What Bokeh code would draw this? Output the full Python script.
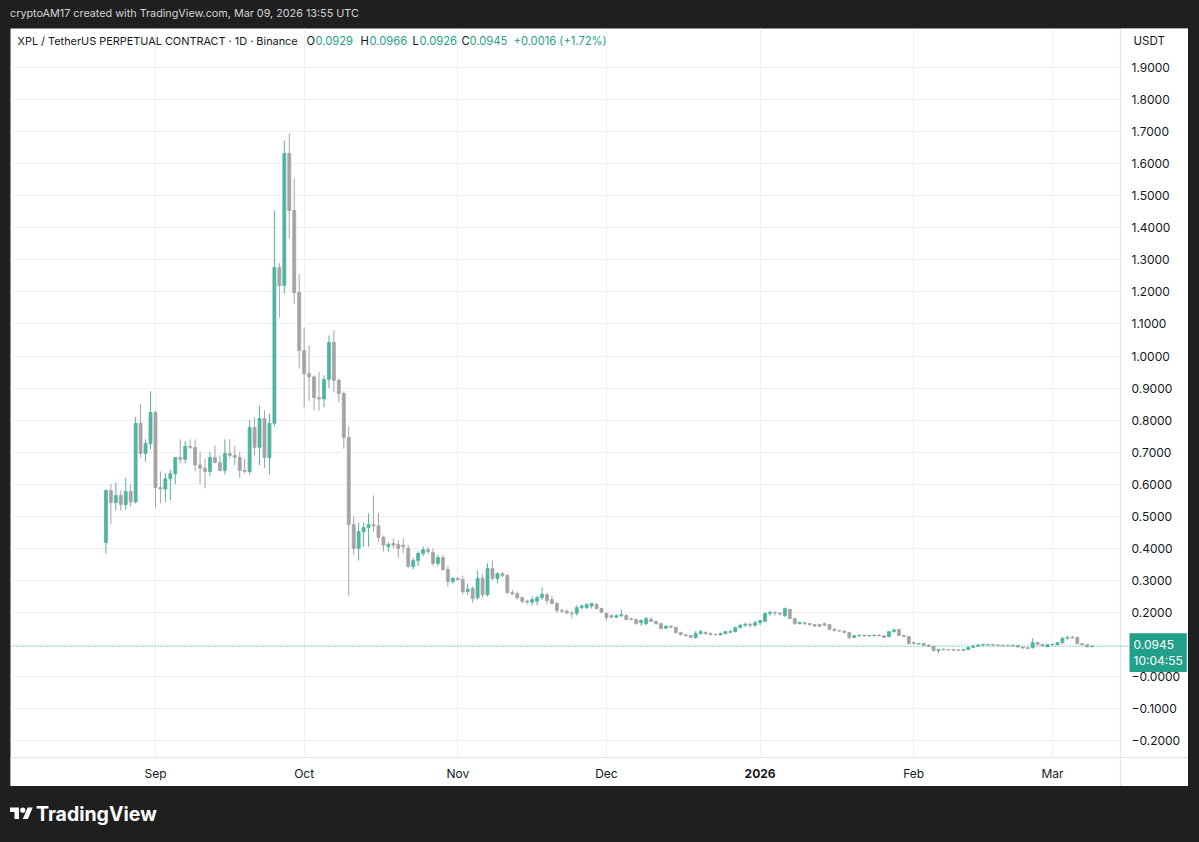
import pandas as pd
from bokeh.plotting import figure
from bokeh.models import (ColumnDataSource, Range1d, FixedTicker, Span, Label, Div, BoxAnnotation,
                          DatetimeAxis)
from bokeh.layouts import column
from bokeh.embed import file_html
from bokeh.resources import INLINE

# ---------------- data ----------------
first_day = "2025-08-22"
n_days = 200

opens = [0.418, 0.580, 0.543, 0.565, 0.537, 0.577, 0.545, 0.790, 0.696, 0.727,
         0.824, 0.590, 0.585, 0.617, 0.633, 0.683, 0.678, 0.718, 0.715, 0.660,
         0.650, 0.640, 0.683, 0.668, 0.643, 0.696, 0.690, 0.684, 0.643, 0.640,
         0.777, 0.715, 0.805, 0.683, 0.790, 1.276, 1.220, 1.632, 1.454, 1.198,
         1.017, 0.945, 0.935, 0.870, 0.866, 0.927, 1.042, 0.924, 0.883, 0.746,
         0.474, 0.400, 0.452, 0.465, 0.474, 0.470, 0.434, 0.405, 0.415, 0.412,
         0.410, 0.400, 0.343, 0.362, 0.384, 0.396, 0.387, 0.353, 0.371, 0.334,
         0.296, 0.306, 0.303, 0.265, 0.275, 0.246, 0.306, 0.255, 0.337, 0.306,
         0.321, 0.315, 0.262, 0.258, 0.246, 0.235, 0.232, 0.235, 0.246, 0.256,
         0.240, 0.228, 0.206, 0.204, 0.198, 0.197, 0.215, 0.215, 0.220, 0.225,
         0.212, 0.197, 0.190, 0.185, 0.190, 0.190, 0.180, 0.178, 0.168, 0.165,
         0.178, 0.172, 0.165, 0.151, 0.157, 0.153, 0.137, 0.130, 0.128, 0.122,
         0.134, 0.138, 0.134, 0.131, 0.130, 0.134, 0.138, 0.140, 0.153, 0.160,
         0.163, 0.160, 0.168, 0.172, 0.197, 0.200, 0.198, 0.190, 0.209, 0.181,
         0.165, 0.168, 0.165, 0.162, 0.162, 0.165, 0.162, 0.148, 0.143, 0.142,
         0.137, 0.122, 0.127, 0.129, 0.127, 0.128, 0.129, 0.127, 0.125, 0.140,
         0.147, 0.128, 0.125, 0.106, 0.102, 0.103, 0.097, 0.094, 0.081, 0.085,
         0.084, 0.084, 0.083, 0.082, 0.084, 0.091, 0.095, 0.098, 0.100, 0.099,
         0.098, 0.097, 0.097, 0.096, 0.097, 0.092, 0.090, 0.090, 0.106, 0.100,
         0.093, 0.099, 0.099, 0.106, 0.119, 0.122, 0.122, 0.103, 0.099, 0.0929]

highs = [0.585, 0.600, 0.605, 0.580, 0.620, 0.600, 0.810, 0.850, 0.740, 0.890,
         0.830, 0.640, 0.635, 0.645, 0.685, 0.740, 0.735, 0.740, 0.740, 0.700,
         0.680, 0.700, 0.720, 0.690, 0.740, 0.740, 0.720, 0.700, 0.680, 0.800,
         0.810, 0.845, 0.830, 0.820, 1.454, 1.290, 1.672, 1.694, 1.554, 1.257,
         1.089, 1.033, 0.940, 0.950, 0.940, 1.064, 1.080, 0.930, 0.890, 0.780,
         0.500, 0.480, 0.480, 0.509, 0.565, 0.510, 0.440, 0.420, 0.430, 0.425,
         0.430, 0.410, 0.370, 0.390, 0.405, 0.405, 0.400, 0.380, 0.380, 0.345,
         0.310, 0.310, 0.315, 0.290, 0.280, 0.331, 0.320, 0.353, 0.362, 0.325,
         0.326, 0.320, 0.270, 0.265, 0.250, 0.240, 0.250, 0.252, 0.278, 0.262,
         0.252, 0.232, 0.212, 0.210, 0.205, 0.222, 0.225, 0.228, 0.228, 0.228,
         0.215, 0.200, 0.194, 0.194, 0.209, 0.195, 0.183, 0.180, 0.178, 0.185,
         0.185, 0.174, 0.168, 0.160, 0.160, 0.156, 0.140, 0.133, 0.130, 0.142,
         0.145, 0.140, 0.138, 0.134, 0.137, 0.142, 0.145, 0.155, 0.165, 0.168,
         0.168, 0.175, 0.175, 0.200, 0.205, 0.205, 0.200, 0.215, 0.212, 0.183,
         0.172, 0.170, 0.167, 0.164, 0.165, 0.168, 0.163, 0.150, 0.145, 0.143,
         0.140, 0.130, 0.131, 0.131, 0.130, 0.131, 0.131, 0.129, 0.142, 0.150,
         0.148, 0.130, 0.127, 0.108, 0.105, 0.105, 0.100, 0.096, 0.086, 0.087,
         0.086, 0.086, 0.085, 0.086, 0.094, 0.097, 0.100, 0.102, 0.102, 0.100,
         0.100, 0.099, 0.098, 0.099, 0.098, 0.094, 0.092, 0.120, 0.108, 0.102,
         0.100, 0.103, 0.107, 0.124, 0.128, 0.128, 0.125, 0.104, 0.100, 0.0966]

lows = [0.384, 0.477, 0.518, 0.518, 0.520, 0.530, 0.540, 0.683, 0.670, 0.710,
        0.527, 0.540, 0.545, 0.550, 0.600, 0.665, 0.665, 0.710, 0.640, 0.600,
        0.587, 0.625, 0.665, 0.640, 0.630, 0.680, 0.660, 0.620, 0.635, 0.630,
        0.690, 0.660, 0.650, 0.630, 0.780, 1.120, 1.195, 1.367, 1.164, 0.961,
        0.839, 0.860, 0.830, 0.830, 0.840, 0.900, 0.886, 0.855, 0.711, 0.253,
        0.380, 0.362, 0.405, 0.405, 0.450, 0.420, 0.390, 0.390, 0.400, 0.370,
        0.385, 0.340, 0.335, 0.345, 0.375, 0.380, 0.345, 0.345, 0.330, 0.280,
        0.290, 0.298, 0.255, 0.255, 0.230, 0.240, 0.245, 0.250, 0.300, 0.290,
        0.310, 0.258, 0.255, 0.240, 0.228, 0.225, 0.222, 0.222, 0.240, 0.225,
        0.225, 0.198, 0.198, 0.196, 0.181, 0.190, 0.210, 0.210, 0.212, 0.210,
        0.198, 0.175, 0.182, 0.182, 0.185, 0.175, 0.175, 0.162, 0.158, 0.160,
        0.170, 0.162, 0.148, 0.148, 0.150, 0.135, 0.128, 0.124, 0.120, 0.118,
        0.130, 0.130, 0.128, 0.128, 0.128, 0.132, 0.135, 0.138, 0.150, 0.155,
        0.152, 0.155, 0.160, 0.170, 0.190, 0.190, 0.190, 0.186, 0.178, 0.162,
        0.162, 0.160, 0.158, 0.156, 0.155, 0.158, 0.145, 0.140, 0.140, 0.135,
        0.115, 0.120, 0.124, 0.124, 0.124, 0.125, 0.125, 0.120, 0.122, 0.137,
        0.126, 0.122, 0.100, 0.100, 0.100, 0.095, 0.093, 0.078, 0.072, 0.082,
        0.082, 0.082, 0.081, 0.081, 0.083, 0.089, 0.093, 0.096, 0.096, 0.096,
        0.095, 0.094, 0.094, 0.094, 0.090, 0.087, 0.085, 0.087, 0.098, 0.094,
        0.092, 0.097, 0.097, 0.102, 0.116, 0.118, 0.100, 0.097, 0.091, 0.0926]

closes = [0.580, 0.543, 0.565, 0.537, 0.577, 0.545, 0.790, 0.696, 0.727, 0.824,
          0.590, 0.585, 0.617, 0.633, 0.683, 0.678, 0.718, 0.715, 0.660, 0.650,
          0.640, 0.683, 0.668, 0.643, 0.696, 0.690, 0.684, 0.643, 0.640, 0.777,
          0.715, 0.805, 0.683, 0.790, 1.276, 1.220, 1.632, 1.454, 1.198, 1.017,
          0.945, 0.935, 0.870, 0.866, 0.927, 1.042, 0.924, 0.883, 0.746, 0.474,
          0.400, 0.452, 0.465, 0.474, 0.470, 0.434, 0.410, 0.412, 0.410, 0.400,
          0.405, 0.343, 0.362, 0.384, 0.396, 0.390, 0.353, 0.371, 0.334, 0.296,
          0.306, 0.303, 0.265, 0.272, 0.243, 0.306, 0.255, 0.337, 0.306, 0.321,
          0.315, 0.262, 0.258, 0.246, 0.235, 0.232, 0.240, 0.246, 0.256, 0.237,
          0.228, 0.206, 0.204, 0.198, 0.196, 0.215, 0.220, 0.225, 0.228, 0.212,
          0.200, 0.184, 0.185, 0.190, 0.193, 0.178, 0.178, 0.165, 0.175, 0.181,
          0.172, 0.165, 0.150, 0.157, 0.154, 0.137, 0.131, 0.128, 0.122, 0.134,
          0.140, 0.134, 0.131, 0.130, 0.134, 0.140, 0.140, 0.153, 0.160, 0.163,
          0.160, 0.168, 0.175, 0.197, 0.200, 0.198, 0.195, 0.212, 0.181, 0.165,
          0.168, 0.165, 0.162, 0.157, 0.157, 0.160, 0.147, 0.144, 0.142, 0.137,
          0.122, 0.127, 0.128, 0.127, 0.128, 0.129, 0.127, 0.122, 0.140, 0.145,
          0.128, 0.125, 0.103, 0.103, 0.103, 0.097, 0.094, 0.081, 0.084, 0.083,
          0.083, 0.082, 0.082, 0.084, 0.091, 0.095, 0.098, 0.100, 0.098, 0.098,
          0.097, 0.096, 0.096, 0.097, 0.092, 0.089, 0.087, 0.106, 0.100, 0.096,
          0.099, 0.100, 0.106, 0.119, 0.121, 0.120, 0.103, 0.099, 0.0929, 0.0945]

month_ticks = ["2025-09-01", "2025-10-01", "2025-11-01", "2025-12-01",
               "2026-01-01", "2026-02-01", "2026-03-01"]
month_labels = ["Sep", "Oct", "Nov", "Dec", "2026", "Feb", "Mar"]
year_tick_index = 4   # the year boundary label is shown in bold

price_ticks = [-0.2, -0.1, 0.0, 0.1, 0.2, 0.3, 0.4, 0.5, 0.6, 0.7, 0.8, 0.9,
               1.0, 1.1, 1.2, 1.3, 1.4, 1.5, 1.6, 1.7, 1.8, 1.9]
price_labels = ["\u22120.2000", "\u22120.1000", "\u22120.0000", "0.1000", "0.2000",
                "0.3000", "0.4000", "0.5000", "0.6000", "0.7000", "0.8000",
                "0.9000", "1.0000", "1.1000", "1.2000", "1.3000", "1.4000",
                "1.5000", "1.6000", "1.7000", "1.8000", "1.9000"]

last_price = 0.0945
last_price_text = "0.0945"
countdown_text = "10:04:55"

header_text = "cryptoAM17 created with TradingView.com, Mar 09, 2026 13:55 UTC"
title_text = "XPL / TetherUS PERPETUAL CONTRACT \u00b7 1D \u00b7 Binance"
ohlc_keys = ["O", "H", "L", "C"]
ohlc_vals = ["0.0929", "0.0966", "0.0926", "0.0945"]
change_text = "+0.0016 (+1.72%)"
currency_text = "USDT"

# ---------------- styling ----------------
UP = "#4fb4a0"
DOWN = "#a4a4a4"
TEAL_TXT = "#1f9e88"
DARK = "#1f1f1f"
TXT = "#131722"
GRID = "#eef0f3"
SEP = "#e0e3eb"
FONT = "Inter"
DAY = 86400000

dates = pd.date_range(first_day, periods=n_days, freq="D")
colors = [UP if c >= o else DOWN for o, c in zip(opens, closes)]
tops = [max(o, c) for o, c in zip(opens, closes)]
bots = [min(o, c) for o, c in zip(opens, closes)]

src = ColumnDataSource(dict(date=dates, open=opens, high=highs, low=lows, close=closes,
                            top=tops, bottom=bots, color=colors))

x0 = pd.Timestamp(first_day)
def day_ms(d):
    return (x0 + pd.Timedelta(hours=d * 24)).value / 1e6

# frame = whole white pane (x 10..1188, y 28..786); the chart pane itself ends at x 1120 / y 757
x_start, x_pane_end, x_end = day_ms(-19.25), day_ms(204.71), day_ms(218.44)
y_end, y_pane_end, y_start = 2.022, -0.2527, -0.3432

p = figure(width=1178, height=758, x_axis_type="datetime", y_axis_location="right",
           x_range=Range1d(x_start, x_end), y_range=Range1d(y_start, y_end),
           output_backend="svg", toolbar_location=None,
           min_border_left=0, min_border_right=0, min_border_top=0, min_border_bottom=0,
           background_fill_color="white", border_fill_color="white",
           outline_line_color=None)
p.margin = (0, 11, 0, 10)

mt = [pd.Timestamp(s).value // 10**6 for s in month_ticks]
plain_ticks = [t for i, t in enumerate(mt) if i != year_tick_index]
plain_labels = [l for i, l in enumerate(month_labels) if i != year_tick_index]
xt = FixedTicker(ticks=mt)
yt = FixedTicker(ticks=price_ticks)
p.xaxis.ticker = FixedTicker(ticks=plain_ticks)
p.yaxis.ticker = yt
p.xgrid.ticker = xt
p.ygrid.ticker = yt
p.xaxis.major_label_overrides = dict(zip(plain_ticks, plain_labels))
p.yaxis.major_label_overrides = dict(zip(price_ticks, price_labels))
p.xgrid.grid_line_color = GRID
p.ygrid.grid_line_color = GRID

# second time axis carrying only the bold year label, at the same place
year_axis = DatetimeAxis(ticker=FixedTicker(ticks=[mt[year_tick_index]]),
                         major_label_overrides={mt[year_tick_index]: month_labels[year_tick_index]})
p.add_layout(year_axis, "below")

for ax in list(p.xaxis) + list(p.yaxis):
    ax.major_tick_line_color = None
    ax.minor_tick_line_color = None
    ax.axis_line_color = None
    ax.major_tick_out = 0
    ax.major_tick_in = 0
    ax.major_label_text_font = FONT
    ax.major_label_text_font_size = "12px"
    ax.major_label_text_color = TXT
year_axis.major_label_text_font_style = "bold"
# the axis labels sit inside the white price / time scale strips
p.yaxis.major_label_standoff = -57
for ax in p.xaxis:
    ax.major_label_standoff = -21
year_axis.major_label_standoff = -18

# mask the grid in the price scale and time scale strips
p.add_layout(BoxAnnotation(left=x_pane_end, fill_color="white", fill_alpha=1,
                           line_color=None, level="underlay"))
p.add_layout(BoxAnnotation(top=y_pane_end, fill_color="white", fill_alpha=1,
                           line_color=None, level="underlay"))
p.add_layout(Span(location=x_pane_end, dimension="height", line_color=SEP, line_width=1))
p.add_layout(Span(location=y_pane_end, dimension="width", line_color=SEP, line_width=1))

# candles
p.segment(x0="date", y0="high", x1="date", y1="low", line_color="color", line_width=1, source=src)
p.vbar(x="date", width=0.6 * DAY, top="top", bottom="bottom", fill_color="color",
       line_color="color", line_width=0.8, source=src)

# last price line
p.add_layout(Span(location=last_price, dimension="width", line_color=TEAL_TXT,
                  line_dash="1 2", line_width=1))

def lab(x, y, text, color=TXT, size="11.2px", **kw):
    p.add_layout(Label(x=x, y=y, x_units="screen", y_units="screen", text=text,
                       text_color=color, text_font=FONT, text_font_size=size,
                       text_baseline="middle", text_align="left", **kw))

# legend line (frame-relative screen coords: x from pane left, y from frame bottom)
lab(7, 746, title_text, size="10.9px")
key_x = [296, 350, 402, 451]
val_x = [305, 359, 409, 459]
for kx, vx, k, v in zip(key_x, val_x, ohlc_keys, ohlc_vals):
    lab(kx, 746, k)
    lab(vx, 746, v, color=TEAL_TXT)
lab(503, 746, change_text, color=TEAL_TXT)
lab(1123, 746, currency_text, size="11.5px")

# last price box on the price scale
p.add_layout(Label(x=1119, y=134, x_units="screen", y_units="screen",
                   text=last_price_text + "\n" + countdown_text, text_color="white",
                   text_font=FONT, text_font_size="12px", text_baseline="middle",
                   text_align="left", text_line_height=1.05,
                   background_fill_color="#22a08a", padding=4))

header = Div(text='<div style="padding:8px 0 0 10px;color:#d4d4d4;font-family:Inter,sans-serif;'
                  'font-size:10.8px;line-height:12px;white-space:nowrap;">' + header_text + '</div>',
             width=1199, height=28, margin=0, styles={"background-color": DARK})

logo = ('<svg width="23" height="18" viewBox="0 0 36 28" style="display:block">'
        '<path d="M14 22H7V11H0V4h14v18zM28 22h-8l7.5-18h8L28 22z" fill="white"/>'
        '<circle cx="20" cy="8" r="4" fill="white"/></svg>')
footer = Div(text='<div style="display:flex;align-items:center;padding:18px 0 0 10px;color:white;'
                  'font-family:Inter,sans-serif;font-weight:700;font-size:19.5px;line-height:20px;">'
                  + logo + '<span style="margin-left:3px">TradingView</span></div>',
             width=1199, height=56, margin=0, styles={"background-color": DARK})

layout = column(header, p, footer, spacing=0, styles={"background-color": DARK})

open("out.html", "w").write(file_html(layout, INLINE))
